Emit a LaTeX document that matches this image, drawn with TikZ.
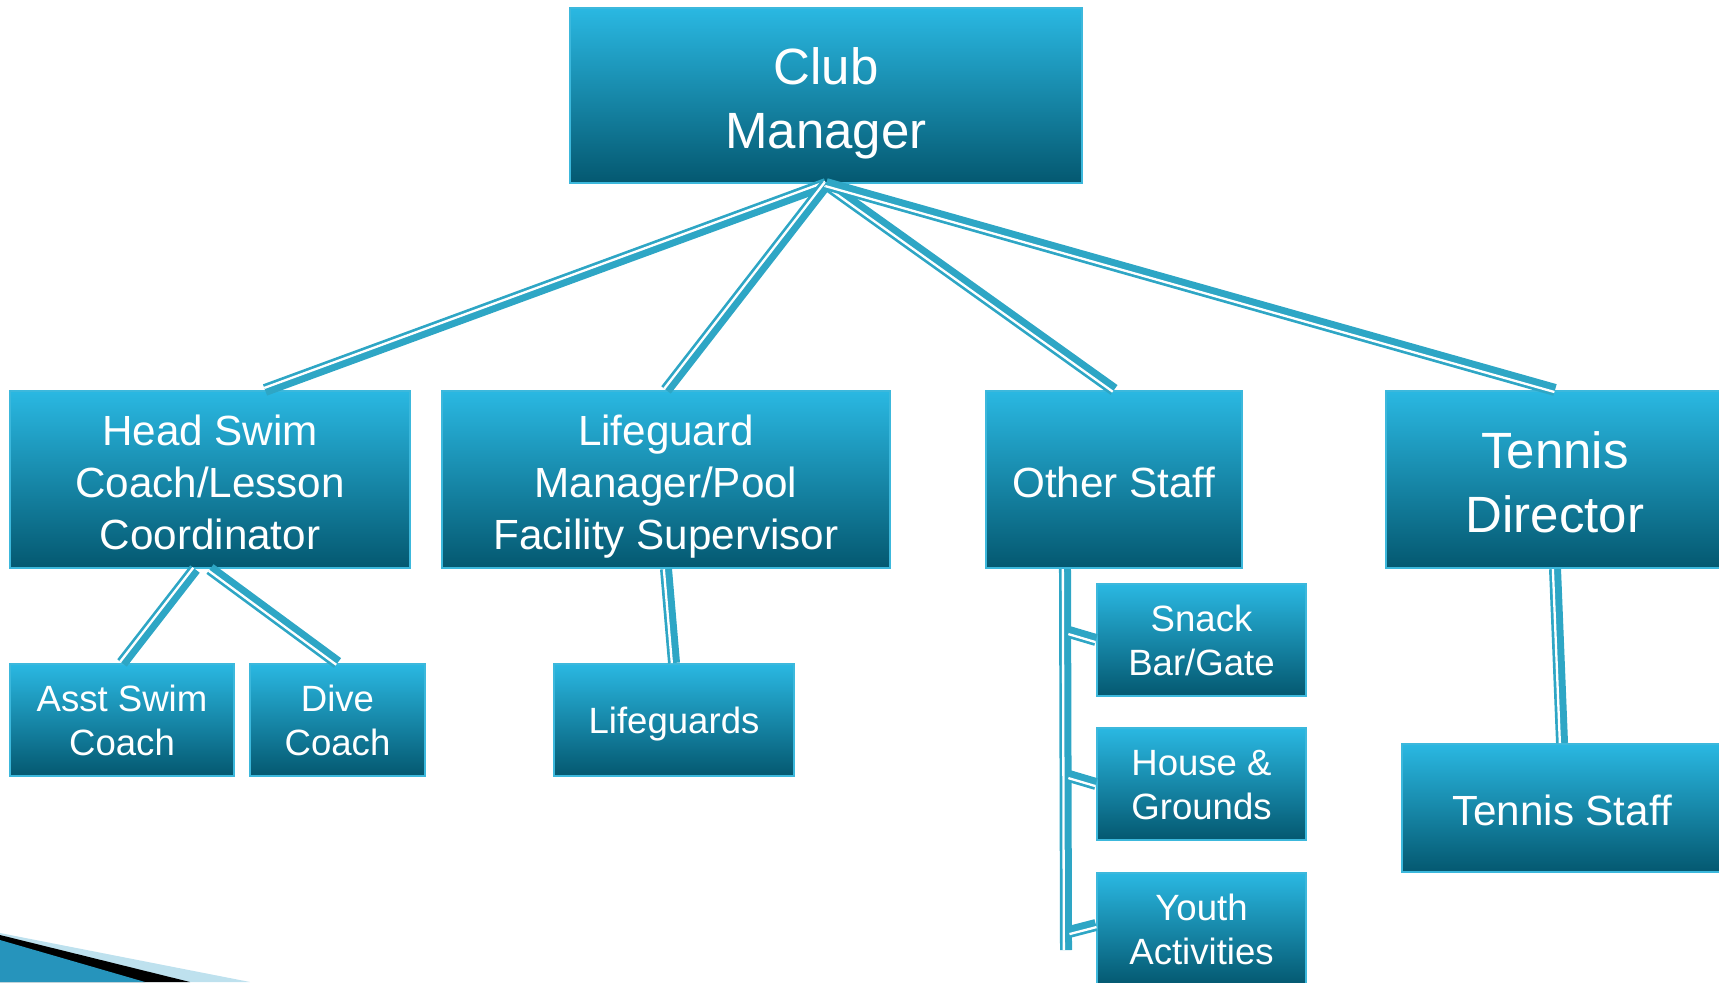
\documentclass[tikz,border=0pt]{standalone}
\usepackage{fontspec}
\setmainfont{Liberation Sans}
\usetikzlibrary{calc}
\definecolor{boxtop}{RGB}{42,184,226}
\definecolor{boxbot}{RGB}{4,88,112}
\definecolor{boxedge}{RGB}{60,184,220}
\definecolor{linkblue}{RGB}{46,166,197}
\definecolor{swooshlight}{RGB}{190,225,238}
\definecolor{swooshblue}{RGB}{38,148,188}
\tikzset{
  orgbox/.style={draw=boxedge, line width=0.02cm, top color=boxtop, bottom color=boxbot,
    text=white, align=center, inner sep=0pt},
  linestrut/.style 2 args={execute at begin node={\def\firstline{\rule{0pt}{#1}}\firstline},
    execute at end node={\rule[-#2]{0pt}{0pt}}},
  bigtxt/.style={font=\fontsize{14.5}{18.3}\selectfont, linestrut={15pt}{3.1pt}},
  midtxt/.style={font=\fontsize{12}{14.7}\selectfont, linestrut={12.7pt}{2.5pt}},
  smalltxt/.style={font=\fontsize{10.4}{12.5}\selectfont, linestrut={10.1pt}{2.2pt}},
  link/.style={draw=linkblue, line width=0.12cm},
  linkgap/.style={draw=white, line width=0.023cm}
}
% thick-thin connector
\newcommand{\orglink}[2]{%
  \draw[link] (#1) -- (#2);
  \draw[linkgap] ($(#1)!0.0215cm!-90:(#2)$) -- ($(#2)!0.0215cm!90:(#1)$);
}

\begin{document}
\begin{tikzpicture}[x=0.01cm, y=-0.01cm]
    \useasboundingbox (0,0) rectangle (1719,982);

    % corner swoosh
    \fill[swooshlight] (0,933) -- (250,982) -- (0,982) -- cycle;
    \fill[black] (0,935) -- (190,982) -- (0,982) -- cycle;
    \fill[swooshblue] (0,940) -- (145,982) -- (0,982) -- cycle;

    % Top level
    \node[orgbox, bigtxt, minimum width=5.12cm, minimum height=1.75cm] (mgr) at (826,95.5) {\firstline Club\\Manager};

    % Second level
    \node[orgbox, midtxt, minimum width=4.00cm, minimum height=1.77cm] (swim) at (210,479.5) {\firstline Head Swim\\Coach/Lesson\\Coordinator};
    \node[orgbox, midtxt, minimum width=4.48cm, minimum height=1.77cm] (lgmgr) at (666,479.5) {\firstline Lifeguard\\Manager/Pool\\Facility Supervisor};
    \node[orgbox, midtxt, minimum width=2.56cm, minimum height=1.77cm] (other) at (1114,479.5) {Other Staff};
    \node[orgbox, bigtxt, minimum width=3.38cm, minimum height=1.77cm] (tennis) at (1555,479.5) {\firstline Tennis\\Director};

    % Third level
    \node[orgbox, smalltxt, minimum width=2.24cm, minimum height=1.12cm] (asst) at (122,720) {\firstline Asst Swim\\Coach};
    \node[orgbox, smalltxt, minimum width=1.75cm, minimum height=1.12cm] (dive) at (337.5,720) {\firstline Dive\\Coach};
    \node[orgbox, smalltxt, minimum width=2.40cm, minimum height=1.12cm] (guards) at (674,720) {Lifeguards};
    \node[orgbox, smalltxt, minimum width=2.09cm, minimum height=1.12cm] (snack) at (1201.5,640) {\firstline Snack\\Bar/Gate};
    \node[orgbox, smalltxt, minimum width=2.09cm, minimum height=1.12cm] (house) at (1201.5,784) {\firstline House \&\\Grounds};
    \node[orgbox, smalltxt, minimum width=2.09cm, minimum height=1.12cm] (youth) at (1201.5,929) {\firstline Youth\\Activities};
    \node[orgbox, midtxt, minimum width=3.20cm, minimum height=1.28cm] (tstaff) at (1562,808) {Tennis Staff};

    % Connector ends
    \coordinate (swimtop) at ([xshift=0.55cm]swim.north);
    \coordinate (swimleft) at ([xshift=-0.15cm]swim.south);
    \coordinate (trunktop) at ([xshift=0.80cm]other.south west);
    \coordinate (trunkend) at (1066,950);
    \coordinate (snackfork) at ($(snack.west)+(-27,-8)$);
    \coordinate (housefork) at ($(house.west)+(-27,-8)$);
    \coordinate (youthfork) at ($(youth.west)+(-27,3)$);
    \coordinate (youthend) at ([yshift=0.04cm]youth.west);

    \orglink{mgr.south}{swimtop}
    \orglink{mgr.south}{lgmgr.north}
    \orglink{mgr.south}{other.north}
    \orglink{mgr.south}{tennis.north}
    \orglink{swimleft}{asst.north}
    \orglink{swim.south}{dive.north}
    \orglink{lgmgr.south}{guards.north}
    \orglink{tennis.south}{tstaff.north}
    \orglink{trunktop}{trunkend}
    \orglink{snackfork}{snack.west}
    \orglink{housefork}{house.west}
    \orglink{youthfork}{youthend}
\end{tikzpicture}
\end{document}
